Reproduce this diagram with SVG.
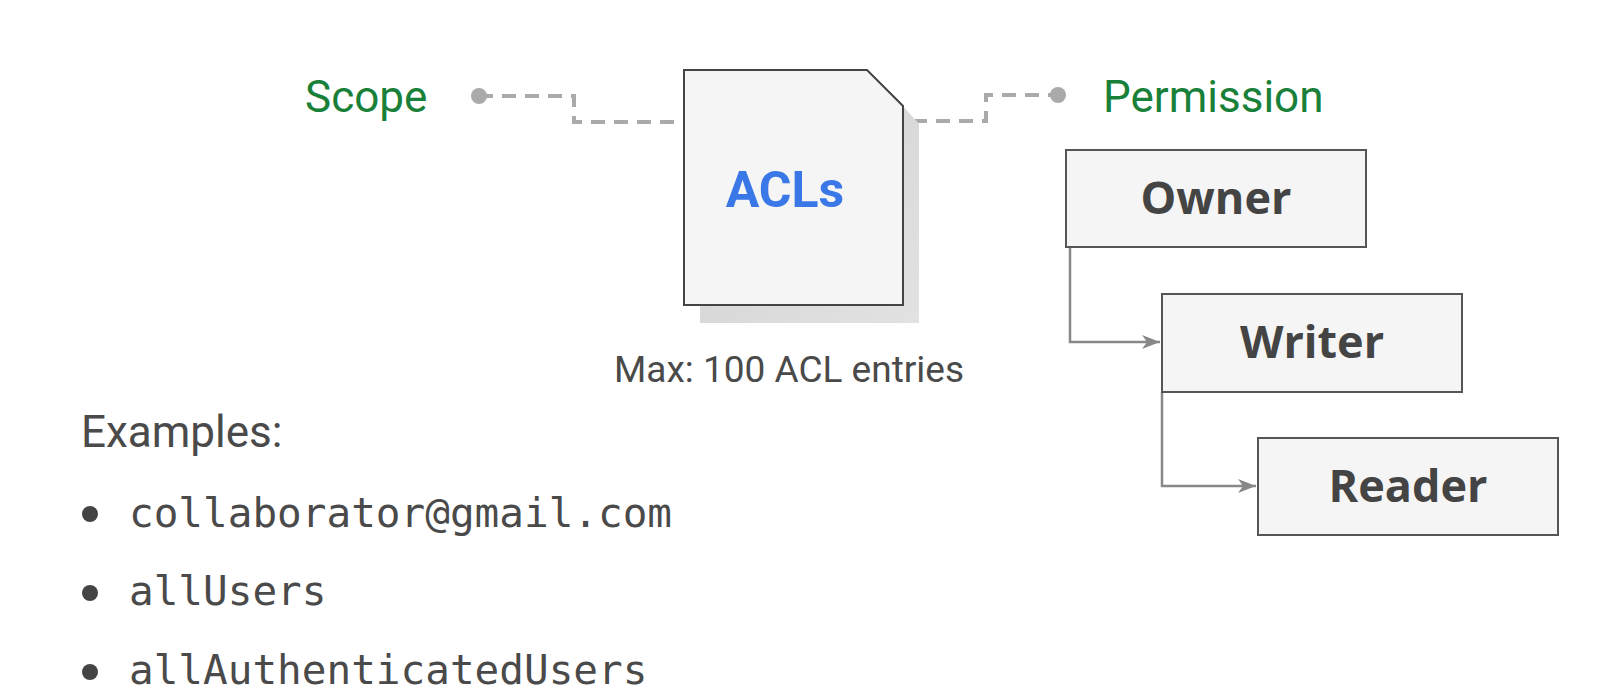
<svg xmlns="http://www.w3.org/2000/svg" width="1620" height="698" viewBox="0 0 1620 698">
<defs>
<style>
.green{font-family:Roboto,"Liberation Sans",sans-serif;font-size:44px;fill:#188038}
.gray{font-family:Roboto,"Liberation Sans",sans-serif;fill:#4a4a4a}
.mono{font-family:"DejaVu Sans Mono","Liberation Mono",monospace;font-size:41px;fill:#4a4a4a}
.box{fill:#f5f5f5;stroke:#555;stroke-width:2}
.role{font-family:"Open Sans",Roboto,"Liberation Sans",sans-serif;font-size:45px;font-weight:bold;fill:#444;text-anchor:middle}
.dash{fill:none;stroke:#aaa;stroke-width:4;stroke-dasharray:14 9}
.arrow{fill:none;stroke:#888;stroke-width:2.5}
</style>
<linearGradient id="shadow" x1="0" y1="0" x2="1" y2="1">
<stop offset="0" stop-color="#d0d0d0"/>
<stop offset="1" stop-color="#e2e2e2"/>
</linearGradient>
<marker id="ah" markerWidth="20" markerHeight="16" refX="18" refY="8" orient="auto" markerUnits="userSpaceOnUse">
<path d="M0,1 L18,8 L0,15 L5,8 Z" fill="#888"/>
</marker>
</defs>
<rect width="1620" height="698" fill="#fff"/>

<g id="connectors">
<path class="dash" d="M479,96 H574 V122 H684"/>
<path class="dash" d="M913,121 H986 V95 H1058"/>
<path class="arrow" d="M1070,247 V342 H1160" marker-end="url(#ah)"/>
<path class="arrow" d="M1162,392 V486 H1256" marker-end="url(#ah)"/>
</g>

<g id="scope">
<text class="green" x="305" y="112">Scope</text>
<circle cx="479" cy="96" r="8" fill="#aaa"/>
</g>

<g id="permission">
<text class="green" x="1103" y="112">Permission</text>
<circle cx="1058" cy="95" r="8" fill="#aaa"/>
</g>

<g id="acls">
<polygon points="700,112 903,106 919,124 919,323 700,323" fill="url(#shadow)"/>
<path d="M684,70 H867 L903,106 V305 H684 Z" fill="#f5f5f5" stroke="#444" stroke-width="2"/>
<text x="785" y="207" font-family="Roboto,'Liberation Sans',sans-serif" font-size="50" font-weight="bold" fill="#3b78e7" text-anchor="middle">ACLs</text>
<text class="gray" x="789" y="382" font-size="37" text-anchor="middle">Max: 100 ACL entries</text>
</g>

<g id="owner">
<rect class="box" x="1066" y="150" width="300" height="97"/>
<text class="role" x="1216" y="214">Owner</text>
</g>
<g id="writer">
<rect class="box" x="1162" y="294" width="300" height="98"/>
<text class="role" x="1312" y="358">Writer</text>
</g>
<g id="reader">
<rect class="box" x="1258" y="438" width="300" height="97"/>
<text class="role" x="1408" y="502">Reader</text>
</g>

<g id="examples">
<text class="gray" x="81" y="447" font-size="44">Examples:</text>
<circle cx="90" cy="514" r="8" fill="#444"/>
<text class="mono" x="129" y="527">collaborator@gmail.com</text>
<circle cx="90" cy="593" r="8" fill="#444"/>
<text class="mono" x="129" y="605">allUsers</text>
<circle cx="90" cy="672" r="8" fill="#444"/>
<text class="mono" x="129" y="684">allAuthenticatedUsers</text>
</g>
</svg>
